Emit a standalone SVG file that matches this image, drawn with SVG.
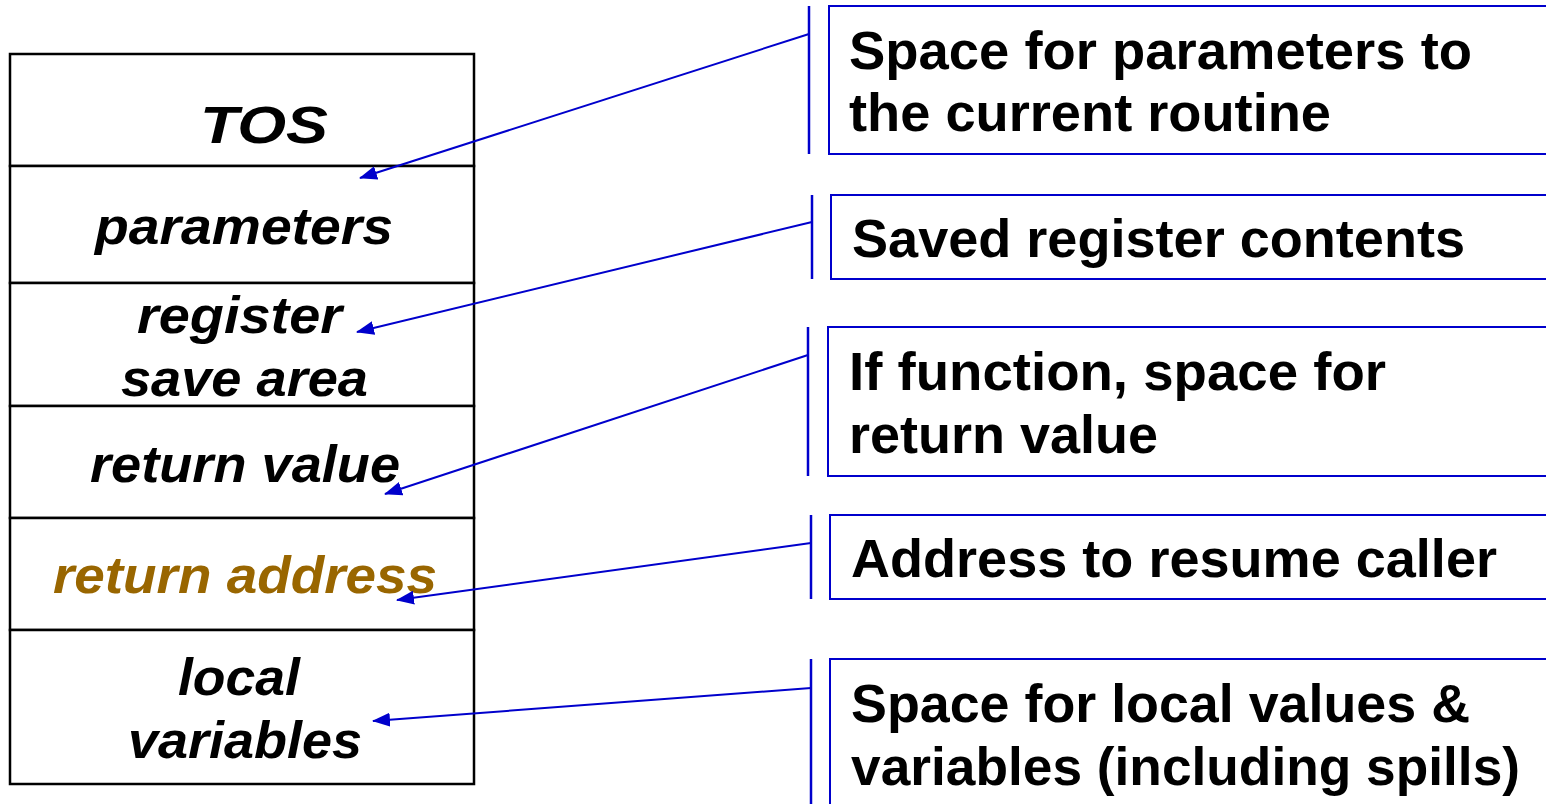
<svg xmlns="http://www.w3.org/2000/svg" width="1546" height="804" viewBox="0 0 1546 804">
  <style>
    .cell { fill: #ffffff; stroke: #000000; stroke-width: 2.5; }
    .slot { font-family: "Liberation Sans", Arial, sans-serif; font-weight: bold; font-style: italic; font-size: 52px; fill: #000000; text-anchor: start; }
    .note { fill: #ffffff; stroke: #0000cc; stroke-width: 2; }
    .bar { stroke: #0000cc; stroke-width: 2.5; }
    .desc { font-family: "Liberation Sans", Arial, sans-serif; font-weight: bold; font-size: 53px; fill: #000000; }
    .link { stroke: #0000cc; stroke-width: 2; fill: none; marker-end: url(#head); }
  </style>
  <defs>
    <marker id="head" viewBox="0 0 18 14" refX="17" refY="7" markerWidth="18" markerHeight="14" markerUnits="userSpaceOnUse" orient="auto">
      <path d="M0,0 L18,7 L0,14 Z" fill="#0000cc"/>
    </marker>
  </defs>

  <rect width="1546" height="804" fill="#ffffff"/>

  <!-- stack frame -->
  <g id="frame">
    <g id="tos">
      <rect class="cell" x="10" y="54" width="464" height="112"/>
      <text class="slot" x="200" y="143" font-size="63" textLength="128" lengthAdjust="spacingAndGlyphs">TOS</text>
    </g>
    <g id="parameters">
      <rect class="cell" x="10" y="166" width="464" height="117"/>
      <text class="slot" x="95" y="244" textLength="298" lengthAdjust="spacingAndGlyphs">parameters</text>
    </g>
    <g id="register-save">
      <rect class="cell" x="10" y="283" width="464" height="123"/>
      <text class="slot" x="137" y="333" textLength="205" lengthAdjust="spacingAndGlyphs">register</text>
      <text class="slot" x="121" y="396" textLength="247" lengthAdjust="spacingAndGlyphs">save area</text>
    </g>
    <g id="return-value">
      <rect class="cell" x="10" y="406" width="464" height="112"/>
      <text class="slot" x="90" y="482" textLength="310" lengthAdjust="spacingAndGlyphs">return value</text>
    </g>
    <g id="return-address">
      <rect class="cell" x="10" y="518" width="464" height="112"/>
      <text class="slot" x="53" y="593" style="fill:#996600" textLength="384" lengthAdjust="spacingAndGlyphs">return address</text>
    </g>
    <g id="locals">
      <rect class="cell" x="10" y="630" width="464" height="154"/>
      <text class="slot" x="178" y="695" textLength="122" lengthAdjust="spacingAndGlyphs">local</text>
      <text class="slot" x="128" y="758" textLength="234" lengthAdjust="spacingAndGlyphs">variables</text>
    </g>
  </g>

  <!-- explanatory notes -->
  <g id="note-params">
    <line class="bar" x1="809" y1="6" x2="809" y2="154"/>
    <rect class="note" x="829" y="6" width="730" height="148"/>
    <text class="desc" x="849" y="69" textLength="623" lengthAdjust="spacingAndGlyphs">Space for parameters to</text>
    <text class="desc" x="849" y="131" textLength="482" lengthAdjust="spacingAndGlyphs">the current routine</text>
  </g>
  <g id="note-registers">
    <line class="bar" x1="812" y1="195" x2="812" y2="279"/>
    <rect class="note" x="831" y="195" width="730" height="84"/>
    <text class="desc" x="852" y="257" textLength="613" lengthAdjust="spacingAndGlyphs">Saved register contents</text>
  </g>
  <g id="note-retval">
    <line class="bar" x1="808" y1="327" x2="808" y2="476"/>
    <rect class="note" x="828" y="327" width="730" height="149"/>
    <text class="desc" x="849" y="390" textLength="537" lengthAdjust="spacingAndGlyphs">If function, space for</text>
    <text class="desc" x="849" y="453" textLength="309" lengthAdjust="spacingAndGlyphs">return value</text>
  </g>
  <g id="note-retaddr">
    <line class="bar" x1="811" y1="515" x2="811" y2="599"/>
    <rect class="note" x="830" y="515" width="730" height="84"/>
    <text class="desc" x="851" y="577" textLength="646" lengthAdjust="spacingAndGlyphs">Address to resume caller</text>
  </g>
  <g id="note-locals">
    <line class="bar" x1="811" y1="659" x2="811" y2="804"/>
    <rect class="note" x="830" y="659" width="730" height="160"/>
    <text class="desc" x="851" y="722" font-size="57" textLength="619" lengthAdjust="spacingAndGlyphs">Space for local values &amp;</text>
    <text class="desc" x="851" y="785" font-size="57" textLength="669" lengthAdjust="spacingAndGlyphs">variables (including spills)</text>
  </g>

  <!-- pointers from notes to frame slots -->
  <g id="connectors">
    <line class="link" x1="809" y1="34" x2="360" y2="178"/>
    <line class="link" x1="812" y1="222" x2="357" y2="332"/>
    <line class="link" x1="808" y1="355" x2="385" y2="494"/>
    <line class="link" x1="811" y1="543" x2="397" y2="600"/>
    <line class="link" x1="811" y1="688" x2="373" y2="721"/>
  </g>
</svg>
